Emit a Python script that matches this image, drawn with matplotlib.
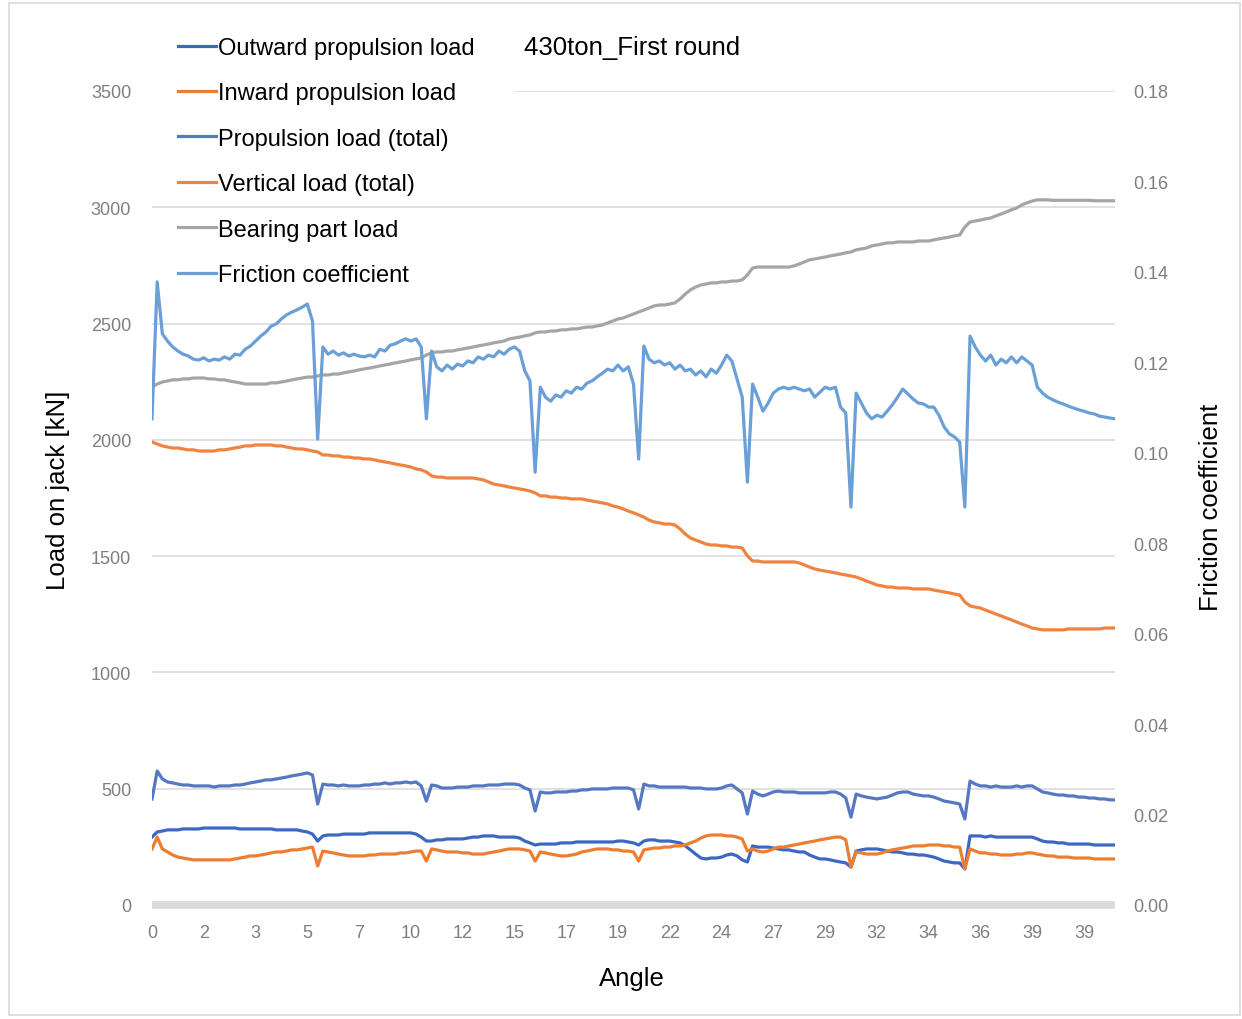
import matplotlib
matplotlib.use("Agg")
import matplotlib.pyplot as plt
from matplotlib.patches import Rectangle

plt.rcParams['font.family'] = ['Liberation Sans', 'DejaVu Sans']

# ---------------------------------------------------------------- data
angle_labels = ["0", "2", "3", "5", "7", "10", "12", "15", "17", "19",
                "22", "24", "27", "29", "32", "34", "36", "39", "39"]
label_every = 10  # one category label per 10 samples

outward_load = [
    292, 314, 318, 323, 323, 323, 327, 327, 327, 327,
    331, 331, 331, 331, 331, 331, 331, 327, 327, 327,
    327, 327, 327, 327, 323, 323, 323, 323, 323, 318,
    314, 305, 275, 297, 301, 301, 301, 305, 305, 305,
    305, 305, 310, 310, 310, 310, 310, 310, 310, 310,
    310, 305, 292, 275, 275, 280, 280, 284, 284, 284,
    284, 288, 292, 292, 297, 297, 297, 292, 292, 292,
    292, 288, 275, 267, 258, 262, 262, 262, 262, 267,
    267, 267, 271, 271, 271, 271, 271, 271, 271, 271,
    275, 275, 271, 267, 258, 275, 280, 280, 275, 275,
    275, 271, 267, 254, 237, 219, 202, 198, 202, 202,
    206, 215, 219, 211, 194, 185, 254, 249, 249, 249,
    245, 241, 237, 237, 232, 228, 228, 215, 206, 198,
    198, 194, 189, 185, 181, 163, 232, 237, 241, 241,
    241, 237, 232, 228, 228, 224, 219, 219, 215, 215,
    211, 206, 198, 189, 185, 181, 181, 155, 297, 297,
    297, 292, 297, 292, 292, 292, 292, 292, 292, 292,
    292, 284, 275, 271, 271, 267, 267, 262, 262, 262,
    262, 262, 258, 258, 258, 258, 258]

inward_load = [
    241, 292, 241, 228, 215, 206, 202, 198, 194, 194,
    194, 194, 194, 194, 194, 194, 198, 202, 206, 211,
    211, 215, 219, 224, 228, 228, 232, 237, 237, 241,
    245, 249, 168, 232, 228, 224, 219, 215, 211, 211,
    211, 211, 215, 215, 219, 219, 219, 219, 224, 224,
    228, 232, 232, 189, 241, 237, 232, 228, 228, 228,
    224, 224, 219, 219, 219, 224, 228, 232, 237, 241,
    241, 241, 237, 232, 189, 228, 224, 219, 215, 211,
    211, 215, 219, 228, 232, 237, 241, 241, 241, 237,
    237, 232, 232, 228, 189, 237, 241, 245, 245, 249,
    249, 254, 254, 258, 267, 275, 288, 297, 301, 301,
    301, 297, 297, 292, 284, 232, 241, 232, 228, 232,
    241, 249, 249, 254, 258, 262, 267, 271, 275, 280,
    284, 288, 292, 292, 280, 163, 228, 224, 219, 219,
    219, 224, 232, 237, 241, 245, 249, 254, 254, 254,
    258, 258, 258, 254, 254, 249, 249, 155, 241, 232,
    224, 224, 219, 219, 215, 215, 215, 219, 219, 224,
    224, 219, 215, 211, 211, 206, 206, 206, 202, 202,
    202, 202, 198, 198, 198, 198, 198]

propulsion_total = [
    456, 576, 542, 529, 525, 520, 516, 516, 512, 512,
    512, 512, 507, 512, 512, 512, 516, 516, 520, 525,
    529, 533, 538, 538, 542, 546, 550, 555, 559, 563,
    568, 559, 434, 520, 516, 516, 512, 516, 512, 512,
    512, 516, 516, 520, 520, 525, 520, 525, 525, 529,
    525, 529, 512, 447, 516, 512, 503, 503, 503, 507,
    507, 507, 512, 512, 512, 516, 516, 516, 520, 520,
    520, 516, 503, 495, 404, 486, 482, 482, 486, 486,
    486, 490, 490, 495, 495, 499, 499, 499, 499, 503,
    503, 503, 503, 495, 413, 520, 512, 512, 507, 507,
    507, 507, 507, 507, 503, 503, 503, 499, 499, 499,
    503, 512, 516, 499, 482, 391, 490, 477, 469, 477,
    486, 490, 486, 486, 486, 482, 482, 482, 482, 482,
    482, 486, 486, 477, 460, 378, 477, 469, 464, 460,
    456, 460, 464, 473, 482, 486, 486, 477, 473, 469,
    469, 464, 456, 447, 443, 439, 434, 370, 533, 520,
    512, 512, 507, 512, 507, 507, 507, 512, 507, 512,
    512, 499, 486, 482, 477, 473, 473, 469, 469, 464,
    464, 460, 460, 456, 456, 452, 452]

vertical_total = [
    1991, 1982, 1974, 1969, 1965, 1965, 1961, 1957, 1957, 1952,
    1952, 1952, 1952, 1957, 1957, 1961, 1965, 1969, 1974, 1974,
    1978, 1978, 1978, 1978, 1974, 1974, 1969, 1965, 1961, 1961,
    1957, 1952, 1948, 1935, 1935, 1931, 1931, 1926, 1926, 1922,
    1922, 1918, 1918, 1914, 1909, 1905, 1901, 1896, 1892, 1888,
    1883, 1875, 1871, 1862, 1845, 1840, 1840, 1836, 1836, 1836,
    1836, 1836, 1836, 1832, 1828, 1819, 1810, 1806, 1802, 1797,
    1793, 1789, 1785, 1780, 1772, 1759, 1759, 1754, 1754, 1750,
    1750, 1746, 1746, 1746, 1741, 1737, 1733, 1729, 1724, 1716,
    1711, 1703, 1694, 1686, 1677, 1668, 1655, 1647, 1643, 1638,
    1638, 1634, 1617, 1595, 1578, 1569, 1561, 1552, 1548, 1548,
    1544, 1544, 1539, 1539, 1535, 1501, 1479, 1479, 1475, 1475,
    1475, 1475, 1475, 1475, 1475, 1471, 1462, 1453, 1445, 1440,
    1436, 1432, 1428, 1423, 1419, 1415, 1410, 1402, 1393, 1385,
    1376, 1372, 1367, 1367, 1363, 1363, 1363, 1359, 1359, 1359,
    1359, 1354, 1350, 1346, 1342, 1337, 1333, 1303, 1286, 1281,
    1277, 1268, 1260, 1251, 1243, 1234, 1226, 1217, 1208, 1200,
    1191, 1187, 1183, 1183, 1183, 1183, 1183, 1187, 1187, 1187,
    1187, 1187, 1187, 1187, 1191, 1191, 1191]

bearing_load = [
    2227, 2240, 2249, 2253, 2258, 2258, 2262, 2262, 2266, 2266,
    2266, 2262, 2262, 2258, 2258, 2253, 2249, 2245, 2240, 2240,
    2240, 2240, 2240, 2245, 2245, 2249, 2253, 2258, 2262, 2266,
    2270, 2270, 2275, 2279, 2279, 2283, 2283, 2288, 2292, 2296,
    2301, 2305, 2309, 2313, 2318, 2322, 2326, 2331, 2335, 2339,
    2344, 2348, 2352, 2365, 2374, 2378, 2378, 2382, 2382, 2387,
    2391, 2395, 2399, 2404, 2408, 2412, 2417, 2421, 2425, 2434,
    2438, 2442, 2447, 2451, 2460, 2464, 2464, 2468, 2468, 2473,
    2473, 2477, 2477, 2481, 2485, 2485, 2490, 2494, 2503, 2511,
    2520, 2524, 2533, 2541, 2550, 2558, 2567, 2576, 2580, 2580,
    2584, 2589, 2606, 2627, 2645, 2657, 2666, 2670, 2675, 2675,
    2679, 2679, 2683, 2683, 2688, 2709, 2739, 2743, 2743, 2743,
    2743, 2743, 2743, 2743, 2748, 2756, 2765, 2774, 2778, 2782,
    2786, 2791, 2795, 2799, 2804, 2808, 2817, 2821, 2825, 2834,
    2838, 2842, 2847, 2847, 2851, 2851, 2851, 2851, 2855, 2855,
    2855, 2860, 2864, 2868, 2872, 2877, 2881, 2915, 2937, 2941,
    2945, 2950, 2954, 2963, 2971, 2980, 2989, 2997, 3010, 3019,
    3027, 3032, 3032, 3032, 3030, 3030, 3030, 3030, 3030, 3030,
    3030, 3030, 3028, 3028, 3028, 3028, 3028]

friction_coef = [
    0.1075, 0.1378, 0.1263, 0.1247, 0.1234, 0.1225, 0.1218, 0.1214, 0.1207, 0.1205,
    0.1210, 0.1203, 0.1207, 0.1205, 0.1212, 0.1207, 0.1218, 0.1216, 0.1229, 0.1236,
    0.1247, 0.1258, 0.1267, 0.1280, 0.1285, 0.1296, 0.1305, 0.1311, 0.1316, 0.1322,
    0.1329, 0.1291, 0.1030, 0.1234, 0.1218, 0.1225, 0.1216, 0.1221, 0.1214, 0.1218,
    0.1214, 0.1212, 0.1216, 0.1212, 0.1229, 0.1225, 0.1238, 0.1241, 0.1247, 0.1252,
    0.1247, 0.1252, 0.1234, 0.1075, 0.1225, 0.1190, 0.1181, 0.1194, 0.1185, 0.1196,
    0.1192, 0.1203, 0.1199, 0.1212, 0.1207, 0.1216, 0.1212, 0.1225, 0.1218, 0.1229,
    0.1234, 0.1225, 0.1181, 0.1159, 0.0957, 0.1145, 0.1123, 0.1114, 0.1128, 0.1123,
    0.1137, 0.1132, 0.1145, 0.1141, 0.1154, 0.1159, 0.1168, 0.1176, 0.1185, 0.1181,
    0.1194, 0.1181, 0.1190, 0.1152, 0.0986, 0.1236, 0.1207, 0.1199, 0.1203, 0.1194,
    0.1199, 0.1185, 0.1194, 0.1181, 0.1185, 0.1172, 0.1181, 0.1168, 0.1185, 0.1176,
    0.1194, 0.1216, 0.1203, 0.1163, 0.1123, 0.0935, 0.1152, 0.1123, 0.1092, 0.1110,
    0.1132, 0.1141, 0.1145, 0.1141, 0.1145, 0.1141, 0.1137, 0.1141, 0.1123, 0.1134,
    0.1145, 0.1141, 0.1145, 0.1101, 0.1088, 0.0880, 0.1132, 0.1110, 0.1088, 0.1075,
    0.1083, 0.1079, 0.1092, 0.1106, 0.1123, 0.1141, 0.1130, 0.1119, 0.1110, 0.1108,
    0.1101, 0.1101, 0.1083, 0.1057, 0.1042, 0.1035, 0.1024, 0.0880, 0.1258, 0.1234,
    0.1216, 0.1203, 0.1216, 0.1194, 0.1207, 0.1199, 0.1212, 0.1199, 0.1212, 0.1203,
    0.1194, 0.1145, 0.1132, 0.1123, 0.1117, 0.1112, 0.1108, 0.1103, 0.1099, 0.1095,
    0.1092, 0.1088, 0.1086, 0.1081, 0.1079, 0.1077, 0.1075]

left_ticks = [0, 500, 1000, 1500, 2000, 2500, 3000, 3500]
right_ticks = [0.00, 0.02, 0.04, 0.06, 0.08, 0.10, 0.12, 0.14, 0.16, 0.18]

# ---------------------------------------------------------------- style
TICK_GRAY = "#7f7f7f"
GRID_GRAY = "#d9d9d9"
C_OUT = "#3d68c2"
C_IN = "#ed7d31"
C_TOT = "#5677c2"
C_VERT = "#ee8440"
C_BEAR = "#a5a5a5"
C_FRIC = "#6a9fd8"
LW = 2.3

samples = list(range(len(friction_coef)))

fig = plt.figure(figsize=(12.42, 10.20), dpi=100)
ax = fig.add_axes([152 / 1242, 1 - 906 / 1020, (1115 - 152) / 1242, (906 - 92) / 1020])
ax2 = ax.twinx()

# primary axis series
l1, = ax.plot(samples, outward_load, color=C_OUT, lw=LW, label="Outward propulsion load")
l2, = ax.plot(samples, inward_load, color=C_IN, lw=LW, label="Inward propulsion load")
l3, = ax.plot(samples, propulsion_total, color=C_TOT, lw=LW, label="Propulsion load (total)")
l4, = ax.plot(samples, vertical_total, color=C_VERT, lw=LW, label="Vertical load (total)")
l5, = ax.plot(samples, bearing_load, color=C_BEAR, lw=LW, label="Bearing part load")
# secondary axis series
l6, = ax2.plot(samples, friction_coef, color=C_FRIC, lw=LW, label="Friction coefficient")

n = len(samples)
ax.set_xlim(0, n - 1)
ax.set_ylim(0, 3500)
ax2.set_ylim(0, 0.18)

# horizontal gridlines (the top one is hidden behind the legend block)
for v in left_ticks[1:]:
    start = 0.377 if v == left_ticks[-1] else 0.0
    ax.axhline(v, xmin=start, xmax=1.0, color=GRID_GRAY, lw=1.1, zorder=0.5)

for a in (ax, ax2):
    for s in ("top", "left", "right"):
        a.spines[s].set_visible(False)
ax2.spines["bottom"].set_visible(False)
ax.spines["bottom"].set_color("#dadada")
ax.spines["bottom"].set_linewidth(5.5)
ax.spines["bottom"].set_capstyle("butt")
ax.spines["bottom"].set_zorder(0.6)

ax.set_xticks(list(range(0, n, label_every)))
ax.set_xticklabels(angle_labels)
ax.set_yticks(left_ticks)
ax.set_yticklabels([str(v) for v in left_ticks])
ax2.set_yticks(right_ticks)
ax2.set_yticklabels([f"{v:.2f}" for v in right_ticks])

ax.tick_params(axis="x", length=0, pad=14, labelsize=13, labelcolor=TICK_GRAY)
ax.tick_params(axis="y", length=0, pad=15, labelsize=13, labelcolor=TICK_GRAY)
ax2.tick_params(axis="y", length=0, pad=13, labelsize=13, labelcolor=TICK_GRAY)

# titles and axis labels
fig.text(632 / 1242, 1 - 48 / 1020, "430ton_First round", ha="center", va="center",
         fontsize=18.5, color="black")
fig.text(58 / 1242, 1 - 490 / 1020, "Load on jack [kN]", rotation=90,
         ha="center", va="center", fontsize=18.5, color="black")
fig.text(1211 / 1242, 1 - 507 / 1020, "Friction coefficient", rotation=90,
         ha="center", va="center", fontsize=18.5, color="black")
fig.text(632 / 1242, 1 - 979 / 1020, "Angle", ha="center", va="center",
         fontsize=18.5, color="black")

# legend
handles = [l1, l2, l3, l4, l5, l6]
leg = fig.legend(handles, [h.get_label() for h in handles],
                 loc="upper left", bbox_to_anchor=(178 / 1242, 1 - 38 / 1020),
                 bbox_transform=fig.transFigure, frameon=False, fontsize=17,
                 handlelength=1.6, handletextpad=0.1, labelspacing=0.99,
                 borderpad=0, borderaxespad=0)
for t in leg.get_texts():
    t.set_color("black")

# chart border
fig.patches.append(Rectangle((9 / 1242, 4 / 1020), 1 - 11 / 1242, 1 - 8 / 1020,
                             transform=fig.transFigure, fill=False,
                             edgecolor="#d9d9d9", lw=1.2))

fig.savefig("out.png", dpi=100, facecolor="white")
